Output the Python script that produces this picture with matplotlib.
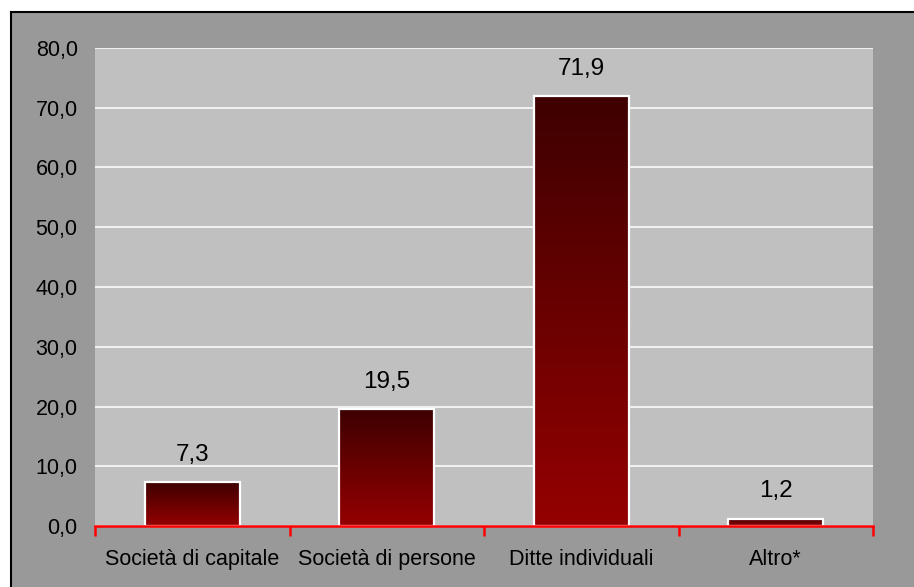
import matplotlib
matplotlib.use("Agg")
import matplotlib.pyplot as plt
import numpy as np
from matplotlib.colors import LinearSegmentedColormap
from matplotlib.patches import Rectangle

categories = ["Società di capitale", "Società di persone", "Ditte individuali", "Altro*"]
values = [7.3, 19.5, 71.9, 1.2]
value_labels = ["7,3", "19,5", "71,9", "1,2"]
yticks = [0, 10, 20, 30, 40, 50, 60, 70, 80]
ytick_labels = ["0,0", "10,0", "20,0", "30,0", "40,0", "50,0", "60,0", "70,0", "80,0"]

plt.rcParams['font.family'] = ['Liberation Sans', 'DejaVu Sans']

W, H = 914, 587
fig = plt.figure(figsize=(W / 100, H / 100), dpi=100, facecolor='white')
bg = Rectangle((11 / W, -0.01), 1.1, 1 - 12 / H + 0.01, transform=fig.transFigure,
               facecolor='#999999', edgecolor='black', linewidth=1.5, zorder=-10)
fig.patches.append(bg)

ax = fig.add_axes([95 / W, (H - 526) / H, 778 / W, 478 / H])
ax.set_zorder(1)
ax.set_facecolor('#c0c0c0')
ax.set_xlim(-0.5, 3.5)
ax.set_ylim(0, 80)

for s in ['left', 'right', 'top']:
    ax.spines[s].set_visible(False)
ax.spines['bottom'].set_color('#ff0000')
ax.spines['bottom'].set_linewidth(1.8)
ax.spines['bottom'].set_zorder(5)

ax.set_yticks(yticks)
ax.set_yticklabels(ytick_labels, fontsize=15.5)
ax.tick_params(axis='y', length=0, pad=12.5)
ax.yaxis.grid(True, color='white', linewidth=1.1)
ax.set_axisbelow(True)

x = np.arange(len(categories))
ax.set_xticks(x)
ax.set_xticklabels(categories, fontsize=15.5)
ax.tick_params(axis='x', which='major', length=0, pad=16.5)
ax.set_xticks(np.arange(len(categories) + 1) - 0.5, minor=True)
ax.tick_params(axis='x', which='minor', length=7, width=1.8, color='#ff0000', direction='out')

cmap = LinearSegmentedColormap.from_list('bar', ['#950000', '#3e0000'])
grad = np.linspace(0, 1, 256).reshape(-1, 1)
bw = 0.49
bars = ax.bar(x, values, width=bw, facecolor='none', edgecolor='white', linewidth=1.6, zorder=3)
for b in bars:
    x0, y0 = b.get_x(), b.get_y()
    ax.imshow(grad, cmap=cmap, origin='lower', aspect='auto',
              extent=[x0, x0 + b.get_width(), y0, y0 + b.get_height()], zorder=2)
ax.set_xlim(-0.5, 3.5)
ax.set_ylim(0, 80)

for xi, v, lab in zip(x, values, value_labels):
    ax.annotate(lab, (xi, v), xytext=(0, 20), textcoords='offset points',
                ha='center', va='center', fontsize=17.5, color='black')

fig.savefig('out.png', dpi=100, facecolor='white')
